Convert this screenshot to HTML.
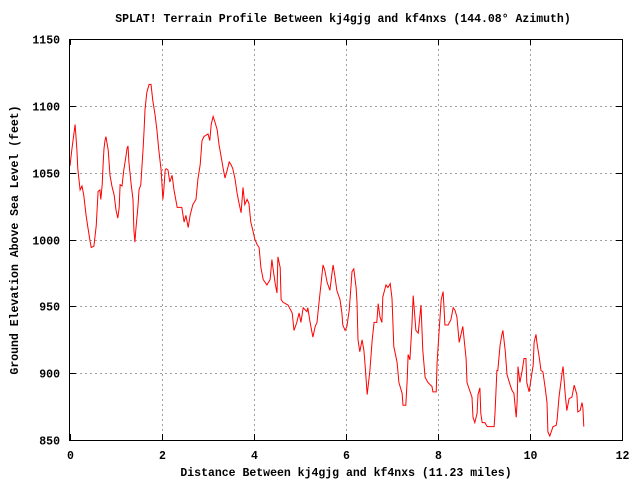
<!DOCTYPE html>
<html><head><meta charset="utf-8"><style>
html,body{margin:0;padding:0;background:#fff;width:640px;height:480px;overflow:hidden}
svg text{font-family:"Liberation Mono",monospace;font-weight:bold;font-size:11.5px;fill:#000}
</style></head><body>
<svg id="chart" width="640" height="480" viewBox="0 0 640 480" xmlns="http://www.w3.org/2000/svg">
<rect width="640" height="480" fill="#fff"/>
<text x="343" y="22" text-anchor="middle">SPLAT! Terrain Profile Between kj4gjg and kf4nxs (144.08° Azimuth)</text>
<text x="346" y="476" text-anchor="middle">Distance Between kj4gjg and kf4nxs (11.23 miles)</text>
<text x="0" y="0" text-anchor="middle" transform="translate(18,240) rotate(-90)">Ground Elevation Above Sea Level (feet)</text>
<g id="grid"></g><g id="plot"></g><g id="axes"></g>
</svg>
<script>
const xTicks=[0,2,4,6,8,10,12];
const yTicks=[850,900,950,1000,1050,1100,1150];
const dist=[0.00,0.04,0.11,0.15,0.17,0.22,0.26,0.30,0.35,0.39,0.43,0.46,0.52,0.57,0.61,0.65,0.67,0.70,0.72,0.74,0.76,0.78,0.83,0.87,0.91,0.96,1.00,1.04,1.07,1.09,1.13,1.17,1.22,1.24,1.26,1.28,1.33,1.37,1.39,1.41,1.43,1.48,1.50,1.54,1.59,1.61,1.63,1.67,1.72,1.76,1.80,1.85,1.89,1.93,1.98,2.02,2.04,2.07,2.09,2.13,2.17,2.22,2.26,2.33,2.43,2.48,2.52,2.57,2.61,2.67,2.74,2.78,2.83,2.87,2.91,3.00,3.04,3.07,3.11,3.15,3.20,3.24,3.28,3.33,3.37,3.41,3.46,3.50,3.54,3.59,3.63,3.67,3.72,3.76,3.80,3.85,3.89,3.93,3.98,4.02,4.07,4.11,4.15,4.20,4.28,4.35,4.39,4.41,4.46,4.50,4.52,4.57,4.59,4.63,4.74,4.83,4.87,4.93,4.98,5.02,5.07,5.15,5.17,5.22,5.28,5.33,5.37,5.41,5.46,5.50,5.54,5.59,5.65,5.70,5.72,5.76,5.80,5.87,5.91,5.93,5.98,6.02,6.07,6.11,6.13,6.17,6.22,6.24,6.26,6.30,6.35,6.39,6.41,6.46,6.48,6.52,6.57,6.61,6.67,6.70,6.74,6.78,6.80,6.87,6.91,6.96,7.00,7.04,7.11,7.15,7.22,7.24,7.30,7.33,7.35,7.39,7.43,7.46,7.52,7.57,7.63,7.67,7.72,7.78,7.87,7.89,7.96,7.98,8.02,8.07,8.11,8.13,8.15,8.22,8.28,8.33,8.37,8.41,8.46,8.52,8.54,8.61,8.63,8.67,8.74,8.76,8.80,8.85,8.87,8.91,8.93,8.96,9.02,9.07,9.22,9.24,9.28,9.30,9.35,9.39,9.41,9.46,9.50,9.57,9.61,9.65,9.70,9.72,9.74,9.78,9.83,9.87,9.91,9.93,9.98,10.02,10.07,10.09,10.13,10.15,10.20,10.24,10.28,10.33,10.37,10.39,10.43,10.50,10.57,10.59,10.63,10.70,10.72,10.76,10.80,10.85,10.91,10.96,11.02,11.04,11.09,11.13,11.15,11.17];
const elev=[1055,1067,1086,1067,1053,1037,1040,1033,1018,1009,1000,994,995,1010,1036,1037,1030,1041,1056,1068,1074,1077,1067,1048,1040,1033,1022,1016,1024,1041,1040,1052,1063,1068,1070,1058,1041,1030,1007,998,1007,1026,1037,1041,1068,1082,1097,1110,1116,1116,1104,1093,1082,1067,1052,1030,1037,1052,1053,1052,1043,1048,1037,1024,1024,1013,1018,1009,1018,1026,1030,1045,1056,1074,1077,1079,1074,1086,1092,1088,1082,1071,1063,1053,1046,1051,1058,1056,1053,1045,1035,1028,1020,1039,1026,1030,1027,1013,1006,1000,996,994,979,970,966,970,985,979,967,960,987,979,955,953,951,945,932,938,945,938,949,946,949,938,927,935,938,952,968,981,977,968,962,976,981,972,962,955,945,936,932,935,947,966,976,978,964,953,925,916,925,917,908,884,890,902,925,938,938,952,942,938,957,966,964,967,956,920,908,893,885,876,876,895,914,910,934,958,932,930,951,917,897,893,890,886,886,908,929,955,961,949,936,936,940,949,947,942,923,932,935,911,893,889,882,867,863,870,884,889,870,863,863,860,860,870,902,902,921,929,932,917,899,891,887,885,867,878,905,893,902,911,911,893,886,895,906,923,929,923,912,902,901,889,878,856,853,860,861,865,882,901,905,886,872,881,882,891,884,871,872,878,874,860];
const L=70,R=622,T=39,B=440;
const xs=d=>L+(d-0)/(12-0)*(R-L);
const ys=v=>B-(v-850)/(1150-850)*(B-T);
const NS="http://www.w3.org/2000/svg";
function mk(tag,attrs,parent){const e=document.createElementNS(NS,tag);for(const k in attrs)e.setAttribute(k,attrs[k]);document.getElementById(parent).appendChild(e);return e;}
xTicks.forEach(t=>{
  const x=Math.round(xs(t))+0.5;
  if(t>0&&t<12){const g=mk('line',{x1:x,y1:T,x2:x,y2:B,stroke:'#a0a0a0','stroke-dasharray':'2,3'},'grid');
  
  }
  const tk=mk('line',{x1:x,y1:B,x2:x,y2:B-6,stroke:'#000'},'axes');
  
  
  const tk2=mk('line',{x1:x,y1:T,x2:x,y2:T+6,stroke:'#000'},'axes');
  
  
  const lb=mk('text',{x:x,y:B+19,'text-anchor':'middle'},'axes');lb.textContent=t;
  
  
});
yTicks.forEach(t=>{
  const y=Math.round(ys(t))+0.5;
  if(t>850&&t<1150){const g=mk('line',{x1:L,y1:y,x2:R,y2:y,stroke:'#a0a0a0','stroke-dasharray':'2,3'},'grid');
  
  }
  const tk=mk('line',{x1:L,y1:y,x2:L+6,y2:y,stroke:'#000'},'axes');
  
  
  const tk2=mk('line',{x1:R,y1:y,x2:R-6,y2:y,stroke:'#000'},'axes');
  
  
  const lb=mk('text',{x:L-10,y:y+4,'text-anchor':'end'},'axes');lb.textContent=t;
  
  
});
const bd=mk('rect',{x:L-0.5,y:T+0.5,width:R-L+1,height:B-T,fill:'none',stroke:'#000'},'axes');


const pts=dist.map((d,i)=>xs(d).toFixed(1)+','+ys(elev[i]).toFixed(1)).join(' ');
const ln=mk('polyline',{points:pts,fill:'none',stroke:'#ff0000','stroke-width':1},'plot');


</script>
</body></html>
